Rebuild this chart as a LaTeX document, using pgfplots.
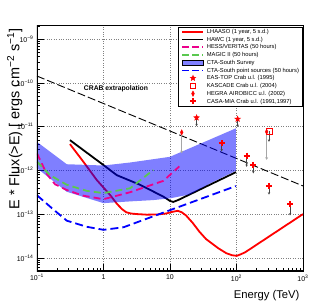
\documentclass[border=0pt]{standalone}
\usepackage{fontspec}
\setmainfont{Liberation Sans}
\usepackage{pgfplots}
\pgfplotsset{compat=1.18}
\usetikzlibrary{arrows.meta}
\definecolor{mgreen}{RGB}{90,200,80}
\pgfdeclareplotmark{fstar}{%
 \pgfpathmoveto{\pgfpointpolar{90}{\pgfplotmarksize}}%
 \pgfpathlineto{\pgfpointpolar{126}{0.42\pgfplotmarksize}}%
 \pgfpathlineto{\pgfpointpolar{162}{\pgfplotmarksize}}%
 \pgfpathlineto{\pgfpointpolar{198}{0.42\pgfplotmarksize}}%
 \pgfpathlineto{\pgfpointpolar{234}{\pgfplotmarksize}}%
 \pgfpathlineto{\pgfpointpolar{270}{0.42\pgfplotmarksize}}%
 \pgfpathlineto{\pgfpointpolar{306}{\pgfplotmarksize}}%
 \pgfpathlineto{\pgfpointpolar{342}{0.42\pgfplotmarksize}}%
 \pgfpathlineto{\pgfpointpolar{18}{\pgfplotmarksize}}%
 \pgfpathlineto{\pgfpointpolar{54}{0.42\pgfplotmarksize}}%
 \pgfpathclose\pgfusepathqfillstroke}
\pgfplotsset{
 linelegend/.style={legend image code/.code={\draw[##1] (0bp,0bp) -- (21bp,0bp);}},
 marklegend/.style={legend image code/.code={\draw[##1] plot coordinates {(10.5bp,0bp)};}},
 boxlegend/.style={legend image code/.code={\draw[##1] (0bp,-2.7bp) rectangle (21bp,2.7bp);}},
 arr/.style={gray!55!black, line width=0.7bp, -{Stealth[length=2.4bp,width=2.4bp]}, forget plot},
 harr/.style={gray!70, line width=1.3bp, -{Stealth[length=2.6bp,width=3bp]}, forget plot},
}
\begin{document}
\begin{tikzpicture}
\useasboundingbox (-37bp,-36bp) rectangle (295bp,271bp);
\begin{axis}[
 at={(0,0)}, anchor=south west, scale only axis,
 width=266bp, height=246bp,
 xmode=log, ymode=log,
 xmin=0.1, xmax=1000, ymin=5e-15, ymax=2.1e-9,
 xtick={0.1,1,10,100,1000},
 xticklabels={10\textsuperscript{−1},1,10,10\textsuperscript{2},10\textsuperscript{3}},
 ytick={1e-14,1e-13,1e-12,1e-11,1e-10,1e-9},
 yticklabels={10\textsuperscript{−14},10\textsuperscript{−13},10\textsuperscript{−12},10\textsuperscript{−11},10\textsuperscript{−10},10\textsuperscript{−9}},
 minor xtick={0.2,0.3,0.4,0.5,0.6,0.7,0.8,0.9,2,3,4,5,6,7,8,9,20,30,40,50,60,70,80,90,200,300,400,500,600,700,800,900},
 minor ytick={6e-15,7e-15,8e-15,9e-15,2e-14,3e-14,4e-14,5e-14,6e-14,7e-14,8e-14,9e-14,2e-13,3e-13,4e-13,5e-13,6e-13,7e-13,8e-13,9e-13,2e-12,3e-12,4e-12,5e-12,6e-12,7e-12,8e-12,9e-12,2e-11,3e-11,4e-11,5e-11,6e-11,7e-11,8e-11,9e-11,2e-10,3e-10,4e-10,5e-10,6e-10,7e-10,8e-10,9e-10,2e-9},
 tick align=inside, xtick pos=left, ytick pos=left,
 major tick length=7bp, minor tick length=3.5bp,
 tick style={black, line width=0.5bp},
 xmajorgrids, ymajorgrids,
 major grid style={gray, dotted, line width=0.5bp},
 ticklabel style={font=\fontsize{7}{8}\selectfont},
 xlabel={Energy (TeV)},
 ylabel={E * Flux(>E) [ ergs cm\textsuperscript{−2} s\textsuperscript{−1}]},
 xlabel style={at={(rel axis cs:1,0)}, anchor=base east, yshift=-27bp, font=\fontsize{11.3}{12}\selectfont},
 ylabel style={at={(rel axis cs:-0.0665,1)}, anchor=base east, font=\fontsize{14.5}{15}\selectfont},
 axis line style={line width=0.6bp},
 legend cell align=left,
 legend style={at={(rel axis cs:0.9989,0.9931)}, anchor=north east, draw=black, line width=0.5bp, fill=white,
   inner xsep=3bp, inner ysep=1bp, row sep=0.35bp, column sep=2bp,
   font=\fontsize{5.8}{6.5}\selectfont,
   nodes={inner sep=0.5bp, text height=4.8bp, text depth=1.6bp}},
]
\addlegendimage{linelegend, red, line width=1.8bp}
\addlegendentry{LHAASO (1 year, 5 s.d.)}
\addlegendimage{linelegend, black, line width=1.8bp}
\addlegendentry{HAWC (1 year, 5 s.d.)}
\addlegendimage{linelegend, magenta, line width=1.8bp, dash pattern=on 7bp off 3bp}
\addlegendentry{HESS/VERITAS (50 hours)}
\addlegendimage{linelegend, mgreen, line width=1.8bp, dash pattern=on 7bp off 3bp}
\addlegendentry{MAGIC II (50 hours)}
\addlegendimage{boxlegend, fill=blue!50, draw=black, line width=0.6bp}
\addlegendentry{CTA-South Survey}
\addlegendimage{linelegend, blue, line width=1.8bp, dash pattern=on 7bp off 3bp}
\addlegendentry{CTA-South point sources (50 hours)}
\addlegendimage{marklegend, red, mark=fstar, mark size=2.8bp}
\addlegendentry{EAS-TOP Crab u.l. (1995)}
\addlegendimage{marklegend, red, mark=square, mark size=2.8bp, line width=0.6bp}
\addlegendentry{KASCADE Crab u.l. (2004)}
\addlegendimage{marklegend, red, mark=diamond*, mark size=2.6bp, mark options={xscale=0.7}}
\addlegendentry{HEGRA AIROBICC u.l. (2002)}
\addlegendimage{marklegend, red, mark=+, mark size=3bp, line width=2bp}
\addlegendentry{CASA-MIA Crab u.l. (1991,1997)}

% Crab extrapolation
\addplot[black, line width=0.9bp, dash pattern=on 8bp off 3bp, forget plot] coordinates {(0.1,1.43e-10) (1000,4.4e-13)};
% LHAASO
\addplot[red, line width=1.8bp, forget plot] coordinates {
 (0.313,3.98e-12) (0.497,1.58e-12) (0.791,6.03e-13) (1.253,2.75e-13) (1.6,1.7e-13)
 (1.9,1.3e-13) (2.2,1.1e-13) (2.6,1.03e-13) (3.2,1.0e-13) (4.47,9.7e-14) (6.5,9.8e-14)
 (8.71,1.03e-13) (11,1.13e-13) (13.06,1.19e-13) (15,1.1e-13) (17.4,9.33e-14)
 (21.9,6.31e-14) (27.6,3.98e-14) (34.8,2.69e-14) (53.2,1.66e-14) (70,1.28e-14)
 (85.1,1.15e-14) (100.7,1.11e-14) (115,1.2e-14) (134,1.33e-14) (1000,1.0e-13)};
% HAWC
\addplot[black, line width=1.8bp, forget plot] coordinates {
 (0.313,4.9e-12) (1,1.32e-12) (1.585,7.76e-13) (3.54,4.68e-13) (7.94,2.51e-13)
 (10,2.0e-13) (11.2,1.9e-13) (13.3,2.1e-13) (98.4,9.12e-13)};
% CTA-South survey band
\addplot[fill=blue, fill opacity=0.5, draw=none, forget plot] coordinates {
 (0.1,4.47e-12) (0.28,1.38e-12) (1,1.29e-12) (2.5,1.51e-12) (10,2.04e-12) (97.7,9.12e-12)
 (97.7,9.77e-13) (39.8,5.01e-13) (20,2.82e-13) (10,2.29e-13) (5.62,2.09e-13) (2.5,1.95e-13)
 (1,1.78e-13) (0.28,3.24e-13) (0.1,1.12e-12)} -- cycle;
% HESS/VERITAS
\addplot[magenta, line width=1.8bp, dash pattern=on 7bp off 4bp, forget plot] coordinates {
 (0.1,2.45e-12) (0.14,8.3e-13) (0.187,4.8e-13) (0.28,3.55e-13) (0.497,2.63e-13)
 (1,2.19e-13) (2.51,3.16e-13) (7.94,5.75e-13) (13.8,1.23e-12)};
% MAGIC II
\addplot[mgreen, line width=1.8bp, dash pattern=on 7bp off 4bp, forget plot] coordinates {
 (0.1,1.58e-12) (0.157,7.76e-13) (0.28,4.68e-13) (0.562,3.39e-13) (1,3.02e-13)
 (2.51,3.89e-13) (5.61,1.02e-12)};
% CTA-South point sources
\addplot[blue, line width=1.8bp, dash pattern=on 8bp off 4bp, forget plot] coordinates {
 (0.1,2.69e-13) (0.178,1.26e-13) (0.28,7.08e-14) (0.558,5.13e-14) (1,4.37e-14)
 (2.0,5.0e-14) (10,1.23e-13) (97.7,4.37e-13)};
% arrows (upper limits)
\addplot[arr] coordinates {(25.1,1.6e-11) (25.1,1.02e-11)};
\addplot[arr] coordinates {(104,1.49e-11) (104,9.8e-12)};
\addplot[arr] coordinates {(308,7.9e-12) (308,4.5e-12)};
\addplot[harr] coordinates {(15.0,7.4e-12) (15.0,2.45e-12)};
\addplot[harr] coordinates {(284,7.6e-12) (284,1.74e-12)};
\addplot[arr] coordinates {(59.8,4.2e-12) (59.8,2.7e-12)};
\addplot[arr] coordinates {(142,2.17e-12) (142,1.2e-12)};
\addplot[arr] coordinates {(179,1.33e-12) (179,8.5e-13)};
\addplot[arr] coordinates {(308,4.4e-13) (308,2.8e-13)};
\addplot[arr] coordinates {(638,1.7e-13) (638,9.3e-14)};
% markers
\addplot[only marks, red, mark=fstar, mark size=3bp, forget plot] coordinates {(25.1,1.6e-11) (104,1.49e-11)};
\addplot[only marks, red, mark=square, mark size=3bp, line width=0.6bp, forget plot] coordinates {(308,7.9e-12)};
\addplot[only marks, red, mark=diamond*, mark size=2.6bp, mark options={xscale=0.7}, forget plot] coordinates {(15.0,7.4e-12) (284,7.6e-12)};
\addplot[only marks, red, mark=+, mark size=3bp, line width=2bp, forget plot] coordinates {(59.8,4.2e-12) (142,2.17e-12) (179,1.33e-12) (308,4.4e-13) (638,1.7e-13)};
\node[font=\bfseries\fontsize{6.8}{8}\selectfont] at (axis cs:1.54,7.2e-11) {CRAB extrapolation};
\draw[line width=1.6bp] (rel axis cs:0,1) -- (rel axis cs:0,0) -- (rel axis cs:1,0);
\end{axis}
\end{tikzpicture}
\end{document}
